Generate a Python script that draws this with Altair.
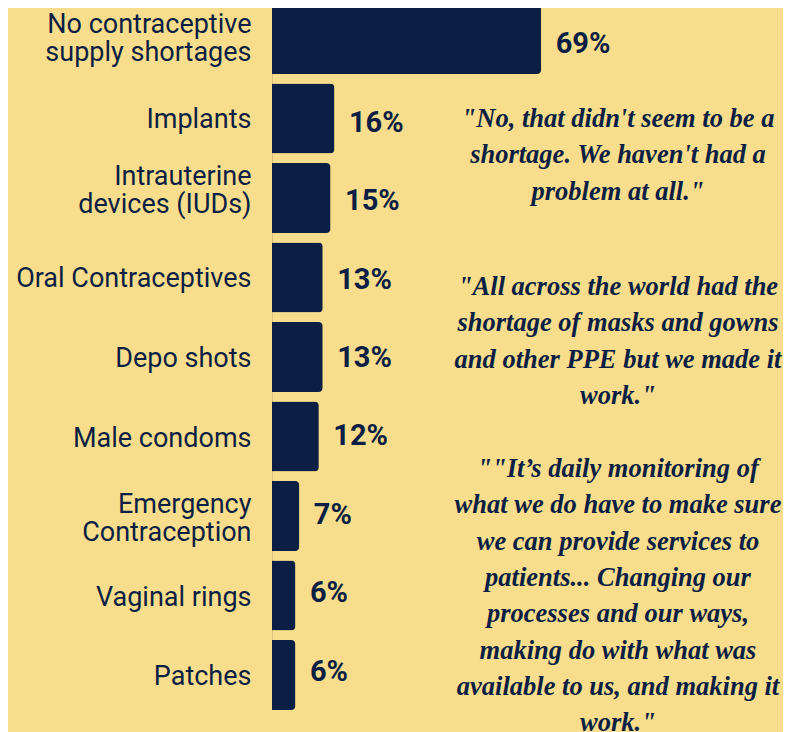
import altair as alt
import pandas as pd

categories = [
    "No contraceptive|supply shortages",
    "Implants",
    "Intrauterine|devices (IUDs)",
    "Oral Contraceptives",
    "Depo shots",
    "Male condoms",
    "Emergency|Contraception",
    "Vaginal rings",
    "Patches",
]
values = [69, 16, 15, 13, 13, 12, 7, 6, 6]
labels = ["69%", "16%", "15%", "13%", "13%", "12%", "7%", "6%", "6%"]

quote1 = ["\"No, that didn't seem to be a", "shortage. We haven't had a", "problem at all.\""]
quote2 = ["\"All across the world had the", "shortage of masks and gowns", "and other PPE but we made it", "work.\""]
quote3 = ["\"\"It\u2019s daily monitoring of", "what we do have to make sure", "we can provide services to",
          "patients... Changing our", "processes and our ways,", "making do with what was",
          "available to us, and making it", "work.\""]

BG = "#F8DE8C"
NAVY = "#0B1F44"

df = pd.DataFrame({"cat": categories, "val": values, "lab": labels})

label_offset = {
    "condition": [
        {"test": "datum.value === 'No contraceptive|supply shortages'", "value": -13.5},
        {"test": "datum.value === 'Intrauterine|devices (IUDs)'", "value": -20.5},
        {"test": "datum.value === 'Emergency|Contraception'", "value": -11},
    ],
    "value": 2,
}

y_enc = alt.Y(
    "cat:N",
    sort=categories,
    scale=alt.Scale(range=[-4, 702], paddingInner=0.12, paddingOuter=0),
    axis=alt.Axis(
        title=None,
        ticks=False,
        labelExpr="split(datum.label, '|')",
        labelFont="Roboto",
        labelFontSize=27,
        labelColor=NAVY,
        labelPadding=21,
        labelLimit=0,
        labelLineHeight=28,
        labelOffset=label_offset,
        domain=True,
        domainColor="#D9C27E",
        domainWidth=1,
    ),
)
x_enc = alt.X("val:Q", scale=alt.Scale(domain=[0, 131]), axis=None)

bars = alt.Chart(df).mark_bar(color=NAVY, cornerRadiusEnd=4).encode(y=y_enc, x=x_enc)
pct = alt.Chart(df).mark_text(
    align="left", baseline="middle", dx=14.5, dy=1, font="Roboto", fontWeight="bold", fontSize=29, color=NAVY
).encode(y=y_enc, x=x_enc, text="lab:N")

qdf = pd.DataFrame({"q": [quote1, quote2, quote3], "qy": [119, 287, 469]})
quotes = alt.Chart(qdf).mark_text(
    align="center", baseline="alphabetic", font="Liberation Serif", fontStyle="italic",
    fontWeight="bold", fontSize=26.5, lineHeight=36.3, color=NAVY
).encode(
    x=alt.value(346),
    y=alt.Y("qy:Q", scale=alt.Scale(domain=[0, 706], range=[0, 706]), axis=None),
    text="q",
)

chart = alt.layer(bars, pct, quotes).resolve_scale(y="independent").properties(
    width=511,
    height=706,
    background=BG,
    padding={"left": 264, "top": 0, "right": 0, "bottom": 18},
    autosize=alt.AutoSizeParams(type="none"),
).configure_view(stroke=None)

chart.save("out.html", embed_options={"renderer": "svg", "actions": False})
